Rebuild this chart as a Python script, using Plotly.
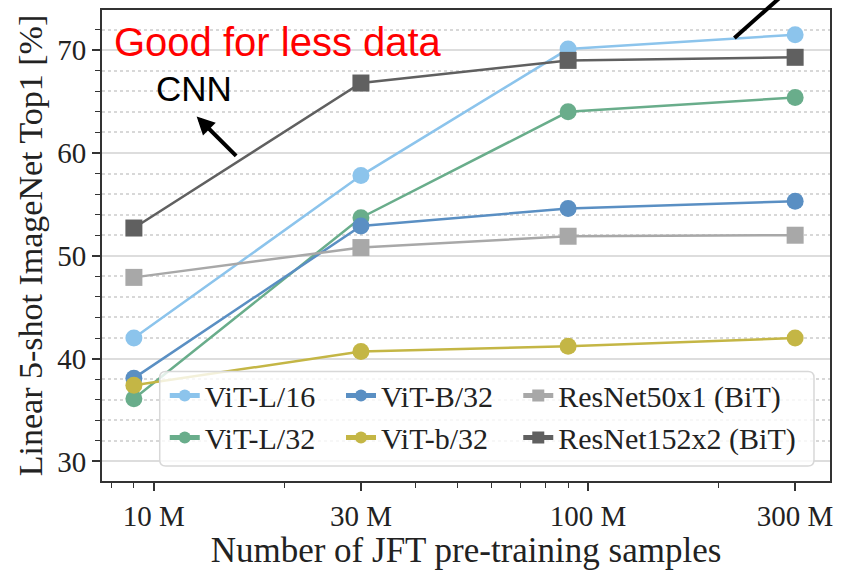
import plotly.graph_objects as go

samples = [9e6, 30e6, 90e6, 300e6]
x_tick_vals = [1e7, 3e7, 1e8, 3e8]
x_tick_text = ["10 M", "30 M", "100 M", "300 M"]
x_minor_vals = [8e6, 9e6, 2e7, 4e7, 5e7, 6e7, 7e7, 8e7, 9e7, 2e8]

vit_l16 = [42.0, 57.8, 70.1, 71.5]
vit_b32 = [38.1, 52.9, 54.6, 55.3]
resnet50 = [47.9, 50.8, 51.9, 52.0]
vit_l32 = [36.1, 53.7, 64.0, 65.4]
vit_b32_small = [37.4, 40.7, 41.2, 42.0]
resnet152 = [52.7, 66.8, 69.0, 69.3]

# (name, values, colour, marker, legend column)
series = [
    ("ViT-L/16", vit_l16, "#8CC4EC", "circle", "legend"),
    ("ViT-L/32", vit_l32, "#69AD8B", "circle", "legend"),
    ("ViT-B/32", vit_b32, "#5A8FC3", "circle", "legend2"),
    ("ViT-b/32", vit_b32_small, "#C4B645", "circle", "legend2"),
    ("ResNet50x1 (BiT)", resnet50, "#A8A8A8", "square", "legend3"),
    ("ResNet152x2 (BiT)", resnet152, "#606060", "square", "legend3"),
]

fig = go.Figure()
for name, vals, color, sym, leg in series:
    fig.add_trace(go.Scatter(
        x=samples, y=vals, name=name, mode="lines+markers",
        line=dict(color=color, width=2.5),
        marker=dict(color=color, size=17, symbol=sym),
        legend=leg, legendgroup=name,
    ))

serif = "Liberation Serif"


def leg(xp):
    return dict(
        orientation="v", x=xp, y=0.2368, xanchor="left", yanchor="top",
        bgcolor="rgba(0,0,0,0)", borderwidth=0,
        font=dict(family=serif, size=30, color="#222222"),
        itemsizing="constant", itemwidth=30, tracegroupgap=4,
        traceorder="normal",
    )


fig.update_layout(
    width=841, height=570,
    margin=dict(l=102, r=8, t=10, b=87),
    plot_bgcolor="white", paper_bgcolor="white",
    font=dict(family=serif, size=29, color="#222222"),
    showlegend=True,
    legend=leg(0.0862), legend2=leg(0.3283), legend3=leg(0.5718),
    xaxis=dict(
        type="log", range=[6.8808, 8.5574],
        tickmode="array", tickvals=x_tick_vals, ticktext=x_tick_text,
        ticks="outside", ticklen=8, tickwidth=1.5, tickcolor="#333333",
        showgrid=False, zeroline=False,
        showline=True, linecolor="#333333", linewidth=2, mirror=True,
        minor=dict(tickmode="array", tickvals=x_minor_vals, ticks="outside", ticklen=5,
                   tickwidth=1.2, tickcolor="#333333", showgrid=False),
        title=dict(text="Number of JFT pre-training samples", font=dict(family=serif, size=35), standoff=6),
        tickfont=dict(family=serif, size=29),
    ),
    yaxis=dict(
        range=[28.1, 73.9], tickmode="array", tickvals=[30, 40, 50, 60, 70],
        ticks="outside", ticklen=8, tickwidth=1.5, tickcolor="#333333",
        showgrid=True, gridcolor="#dddddd", gridwidth=1.5, zeroline=False,
        showline=True, linecolor="#333333", linewidth=2, mirror=True,
        minor=dict(dtick=2, tick0=0, ticks="outside", ticklen=5, tickwidth=1.2,
                   tickcolor="#333333", showgrid=True, gridcolor="#d8d8d8",
                   gridwidth=1.5, griddash="dot"),
        title=dict(text="Linear 5-shot ImageNet Top1 [%]", font=dict(family=serif, size=34), standoff=4),
        tickfont=dict(family=serif, size=29),
    ),
)

# legend frame (rounded, semi-transparent) drawn over the lines
x0, x1, y0, y1 = 0.0793, 0.978, 0.0317, 0.2326
rx, ry = 6 / 731, 6 / 473
path = (f"M {x0+rx},{y0} L {x1-rx},{y0} Q {x1},{y0} {x1},{y0+ry} "
        f"L {x1},{y1-ry} Q {x1},{y1} {x1-rx},{y1} L {x0+rx},{y1} "
        f"Q {x0},{y1} {x0},{y1-ry} L {x0},{y0+ry} Q {x0},{y0} {x0+rx},{y0} Z")
fig.add_shape(type="path", path=path, xref="paper", yref="paper", layer="above",
              fillcolor="rgba(255,255,255,0.8)", line=dict(color="#d8d8d8", width=1.5))

fig.add_annotation(
    x=0.0137, y=0.932, xref="paper", yref="paper", xanchor="left", yanchor="middle",
    text="Good for less data", showarrow=False,
    font=dict(family="Liberation Sans", size=40, color="#ff0000"),
)
fig.add_annotation(
    x=0.127, y=0.833, xref="paper", yref="paper", xanchor="center", yanchor="middle",
    text="CNN", showarrow=False,
    font=dict(family="Liberation Sans", size=35, color="#000000"),
)
fig.add_annotation(
    x=0.130, y=0.774, xref="paper", yref="paper", text="",
    showarrow=True, ax=41, ay=41, arrowhead=2, arrowsize=0.9, arrowwidth=4,
    arrowcolor="#000000", standoff=0,
)
fig.add_shape(
    type="line", xref="paper", yref="paper",
    x0=0.8687, y0=0.9408, x1=0.9412, y1=1.04,
    line=dict(color="#000000", width=4),
)

fig.write_html(
    "out.html",
    config={"displayModeBar": False, "responsive": False},
    post_script="document.body.style.margin='0';",
)
